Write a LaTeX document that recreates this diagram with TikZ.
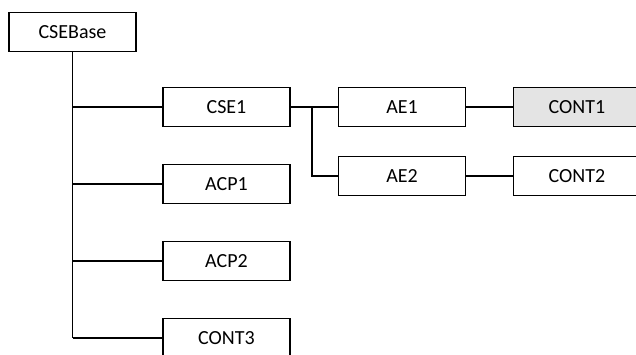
\documentclass[tikz,border=0pt]{standalone}
\usepackage{fontspec}
\setmainfont{Carlito}
\definecolor{boxgray}{HTML}{E4E4E4}
\begin{document}
\begin{tikzpicture}[x=1pt,y=-1pt,
  treebox/.style={draw=black, line width=1.4pt, fill=white, minimum width=127pt,
    minimum height=39pt, inner sep=0pt, font=\fontsize{20}{24}\selectfont},
  link/.style={draw=black, line width=1.4pt},
  trunk/.style={draw=black, line width=1.8pt}]
  \clip (0,0) rectangle (636,354);
  \fill[white] (0,0) rectangle (636,354);

  % tree nodes
  \node[treebox] (base) at (72.5,32) {CSEBase};
  \node[treebox] (cse1) at (226.5,107) {CSE1};
  \node[treebox] (acp1) at (226.5,184) {ACP1};
  \node[treebox] (acp2) at (226.5,261) {ACP2};
  \node[treebox] (cont3) at (226.5,338) {CONT3};
  \node[treebox] (ae1) at (402,107) {AE1};
  \node[treebox] (ae2) at (402,176) {AE2};
  \node[treebox, fill=boxgray] (cont1) at (577,107) {CONT1};
  \node[treebox] (cont2) at (577,176) {CONT2};

  % trunk under CSEBase and its branches
  \draw[trunk] (base.south) -- (base.south |- cont3.west);
  \draw[link] (base.south |- cse1.west) -- (cse1.west);
  \draw[link] (base.south |- acp1.west) -- (acp1.west);
  \draw[link] (base.south |- acp2.west) -- (acp2.west);
  \draw[link] (base.south |- cont3.west) -- (cont3.west);

  % branch under CSE1
  \coordinate (split) at (312,107);
  \draw[link] (cse1.east) -- (ae1.west);
  \draw[link] (split) |- (ae2.west);
  \draw[link] (ae1.east) -- (cont1.west);
  \draw[link] (ae2.east) -- (cont2.west);
\end{tikzpicture}
\end{document}
